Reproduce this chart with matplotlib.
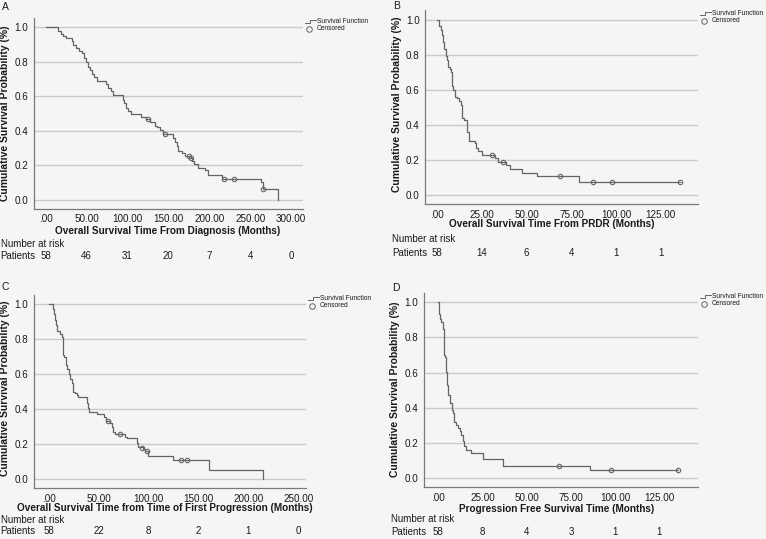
import matplotlib
matplotlib.use('Agg')
import matplotlib.pyplot as plt
from matplotlib.lines import Line2D
from matplotlib.transforms import blended_transform_factory

# ---------------- data ----------------
a_time = [0, 15.5, 18.3, 21.6, 24.9, 31.8, 33.8, 37.1, 41.2, 44.0, 47.3, 49.3, 51.3, 54.2, 56.2,
          59.1, 62.3, 73.8, 76.6, 79.5, 81.9, 94.1, 95.8, 98.2, 101.0, 103.9, 116.1, 122.7, 127.5,
          133.7, 136.5, 139.8, 143.8, 155.2, 158.1, 160.1, 162.2, 166.2, 170.3, 177.0, 179.3, 181.3,
          186.6, 194.7, 198.8, 216.0, 262.8, 265.0, 284.4]
a_surv = [1.0, 0.98, 0.96, 0.95, 0.94, 0.92, 0.90, 0.88, 0.865, 0.85, 0.82, 0.80, 0.77, 0.75, 0.73,
          0.71, 0.69, 0.67, 0.65, 0.63, 0.605, 0.58, 0.56, 0.535, 0.515, 0.50, 0.48, 0.47, 0.45,
          0.43, 0.42, 0.405, 0.38, 0.36, 0.337, 0.31, 0.285, 0.27, 0.255, 0.24, 0.225, 0.205,
          0.183, 0.17, 0.145, 0.123, 0.10, 0.063, 0.0]
a_cens_time = [124.7, 145.5, 175.6, 178.0, 218.0, 230.2, 266.0]
a_cens_surv = [0.47, 0.38, 0.255, 0.24, 0.123, 0.123, 0.063]

b_time = [0, 1.0, 1.9, 2.8, 3.4, 4.0, 4.7, 5.6, 6.2, 7.1, 7.7, 8.2, 8.9, 9.9, 11.2, 12.3, 13.3,
          14.0, 15.1, 16.4, 16.8, 17.5, 21.1, 21.6, 22.9, 24.8, 32.3, 34.1, 38.4, 40.7, 47.2,
          55.6, 79.4, 135.6]
b_surv = [1.0, 0.965, 0.94, 0.91, 0.87, 0.835, 0.79, 0.77, 0.73, 0.72, 0.70, 0.62, 0.60, 0.56,
          0.55, 0.535, 0.51, 0.44, 0.43, 0.40, 0.36, 0.31, 0.294, 0.266, 0.25, 0.228, 0.209,
          0.19, 0.17, 0.148, 0.125, 0.105, 0.076, 0.076]
b_cens_time = [30.4, 36.9, 68.6, 87.3, 97.5, 135.6]
b_cens_surv = [0.228, 0.19, 0.105, 0.076, 0.076, 0.076]

c_time = [0, 3.7, 5.0, 6.0, 7.0, 7.7, 10.7, 12.7, 13.7, 15.0, 16.7, 18.4, 20.1, 21.1, 22.7, 24.4,
          26.1, 27.8, 29.4, 37.8, 39.5, 40.5, 48.5, 54.8, 57.5, 61.2, 62.9, 64.0, 66.0, 76.3,
          77.9, 88.0, 89.6, 94.6, 96.5, 99.7, 124.0, 160.5, 215.0]
c_surv = [1.0, 0.975, 0.947, 0.91, 0.88, 0.845, 0.83, 0.81, 0.71, 0.70, 0.65, 0.63, 0.60, 0.57,
          0.55, 0.50, 0.49, 0.48, 0.47, 0.433, 0.405, 0.386, 0.37, 0.355, 0.33, 0.32, 0.30, 0.27,
          0.257, 0.243, 0.234, 0.205, 0.186, 0.173, 0.158, 0.13, 0.106, 0.053, 0.0]
c_cens_time = [59.5, 71.2, 93.0, 98.0, 132.1, 138.1]
c_cens_surv = [0.33, 0.257, 0.18, 0.158, 0.106, 0.106]

d_time = [0, 0.2, 0.75, 1.7, 2.6, 3.0, 3.9, 4.5, 5.05, 5.8, 6.4, 6.9, 7.7, 8.2, 9.2, 10.1, 11.0,
          12.3, 12.9, 13.8, 14.8, 15.7, 18.5, 25.1, 36.8, 85.7, 135.6]
d_surv = [1.0, 0.936, 0.907, 0.888, 0.85, 0.70, 0.69, 0.605, 0.53, 0.47, 0.454, 0.425, 0.388,
          0.37, 0.32, 0.30, 0.284, 0.265, 0.246, 0.208, 0.18, 0.16, 0.142, 0.11, 0.07, 0.047, 0.047]
d_cens_time = [68.3, 97.5, 135.6]
d_cens_surv = [0.07, 0.047, 0.047]

a_risk_time = [0, 50, 100, 150, 200, 250, 300]
a_risk = [58, 46, 31, 20, 7, 4, 0]
b_risk_time = [0, 25, 50, 75, 100, 125]
b_risk = [58, 14, 6, 4, 1, 1]
c_risk_time = [0, 50, 100, 150, 200, 250]
c_risk = [58, 22, 8, 2, 1, 0]
d_risk_time = [0, 25, 50, 75, 100, 125]
d_risk = [58, 8, 4, 3, 1, 1]

a_xticks = [0, 50, 100, 150, 200, 250, 300]
b_xticks = [0, 25, 50, 75, 100, 125]
c_xticks = [0, 50, 100, 150, 200, 250]
d_xticks = [0, 25, 50, 75, 100, 125]
y_ticks = [0.0, 0.2, 0.4, 0.6, 0.8, 1.0]

a_xlabel = 'Overall Survival Time From Diagnosis (Months)'
b_xlabel = 'Overall Survival Time From PRDR (Months)'
c_xlabel = 'Overall Survival Time from Time of First Progression (Months)'
d_xlabel = 'Progression Free Survival Time (Months)'
y_label = 'Cumulative Survival Probability (%)'

# ---------------- styling ----------------
plt.rcParams['font.family'] = ['Liberation Sans', 'DejaVu Sans']
W, H = 766, 539
BG = '#f5f5f5'
LINE = '#646464'
GRID = '#cbcbcb'
SPINE = '#7a7a7a'
TXT = '#1a1a1a'

fig = plt.figure(figsize=(W / 100, H / 100), dpi=100)
fig.patch.set_facecolor(BG)


def fxy(px, py):
    return px / W, 1 - py / H


def panel(letter, l, r, t, b, xlim, times, surv, ctimes, csurv, xticks, xlabel,
          risk_t, risk, xlab_pos, ylab_pos, letter_pos, risk_y):
    ax = fig.add_axes([l / W, 1 - b / H, (r - l) / W, (b - t) / H])
    ax.set_facecolor(BG)
    ax.set_xlim(*xlim)
    ax.set_ylim(-0.052, 1.052)
    for yv in y_ticks:
        ax.axhline(yv, color=GRID, lw=1.0, zorder=1)
    ax.step(times, surv, where='post', color=LINE, lw=0.9, zorder=3)
    ax.plot(ctimes, csurv, 'o', ms=3.2, mfc='none', mec=LINE, mew=0.8, zorder=4)
    for s in ['top', 'right']:
        ax.spines[s].set_visible(False)
    for s in ['left', 'bottom']:
        ax.spines[s].set_color(SPINE)
        ax.spines[s].set_linewidth(0.9)
    ax.set_xticks(xticks)
    ax.set_xticklabels([('%.2f' % v).lstrip('0') if v == 0 else '%.2f' % v for v in xticks])
    ax.set_yticks(y_ticks)
    ax.set_yticklabels(['%.1f' % v for v in y_ticks])
    ax.tick_params(length=0, labelsize=7.1, colors=TXT, pad=4)

    # x / y labels
    x, y = fxy(*xlab_pos)
    fig.text(x, y, xlabel, ha='center', va='center', fontsize=7.2, fontweight='bold', color=TXT)
    x, y = fxy(*ylab_pos)
    fig.text(x, y, y_label, ha='center', va='center', rotation=90, fontsize=7.5,
             fontweight='bold', color=TXT)
    x, y = fxy(*letter_pos)
    fig.text(x, y, letter, ha='left', va='center', fontsize=7.5, color=TXT)

    # legend (outside, top right)
    ix0, iy = r + 1.5, t + 4.5
    pts = [(ix0, iy), (ix0 + 5, iy), (ix0 + 5, iy - 2.7), (ix0 + 11, iy - 2.7)]
    fig.add_artist(Line2D([p[0] / W for p in pts], [1 - p[1] / H for p in pts],
                          color=LINE, lw=0.7, transform=fig.transFigure))
    fig.add_artist(Line2D([(ix0 + 4) / W], [1 - (t + 10.3) / H], marker='o', ms=4,
                          mfc='none', mec=LINE, mew=0.7, transform=fig.transFigure))
    x, y = fxy(r + 14, t + 3.3)
    fig.text(x, y, 'Survival Function', fontsize=4.8, va='center', ha='left', color=TXT)
    x, y = fxy(r + 14, t + 10.3)
    fig.text(x, y, 'Censored', fontsize=4.8, va='center', ha='left', color=TXT)

    # number at risk table
    x, y = fxy(letter_pos[0] - 1, risk_y[0])
    fig.text(x, y, 'Number at risk', fontsize=7, ha='left', va='center', color=TXT)
    x, y = fxy(letter_pos[0] - 1, risk_y[1])
    fig.text(x, y, 'Patients', fontsize=7, ha='left', va='center', color=TXT)
    tr = blended_transform_factory(ax.transData, fig.transFigure)
    for tv, n in zip(risk_t, risk):
        ax.text(tv, 1 - risk_y[1] / H, str(n), transform=tr, fontsize=7, ha='center',
                va='center', color=TXT, clip_on=False)
    return ax


panel('A', 34, 303, 18.4, 208.7, (-14.3, 314.5), a_time, a_surv, a_cens_time, a_cens_surv,
      a_xticks, a_xlabel, a_risk_time, a_risk, (167.7, 230.7), (5.5, 113.3), (1.7, 7),
      (243.7, 255.7))
panel('B', 425.3, 698, 10.5, 204, (-6.7, 145.8), b_time, b_surv, b_cens_time, b_cens_surv,
      b_xticks, b_xlabel, b_risk_time, b_risk, (552.2, 224.3), (397.2, 104.5), (393, 6.3),
      (239, 252.7))
panel('C', 34, 306, 295.2, 488.1, (-15, 257.8), c_time, c_surv, c_cens_time, c_cens_surv,
      c_xticks, c_xlabel, c_risk_time, c_risk, (165, 508.3), (5.3, 388.3), (1.7, 287),
      (519.8, 531.5))
panel('D', 423.7, 698, 293.2, 487.1, (-8.2, 146.8), d_time, d_surv, d_cens_time, d_cens_surv,
      d_xticks, d_xlabel, d_risk_time, d_risk, (556.3, 509.3), (394.7, 389.2), (392, 288),
      (519, 531.7))

fig.savefig('out.png', dpi=100, facecolor=BG)
